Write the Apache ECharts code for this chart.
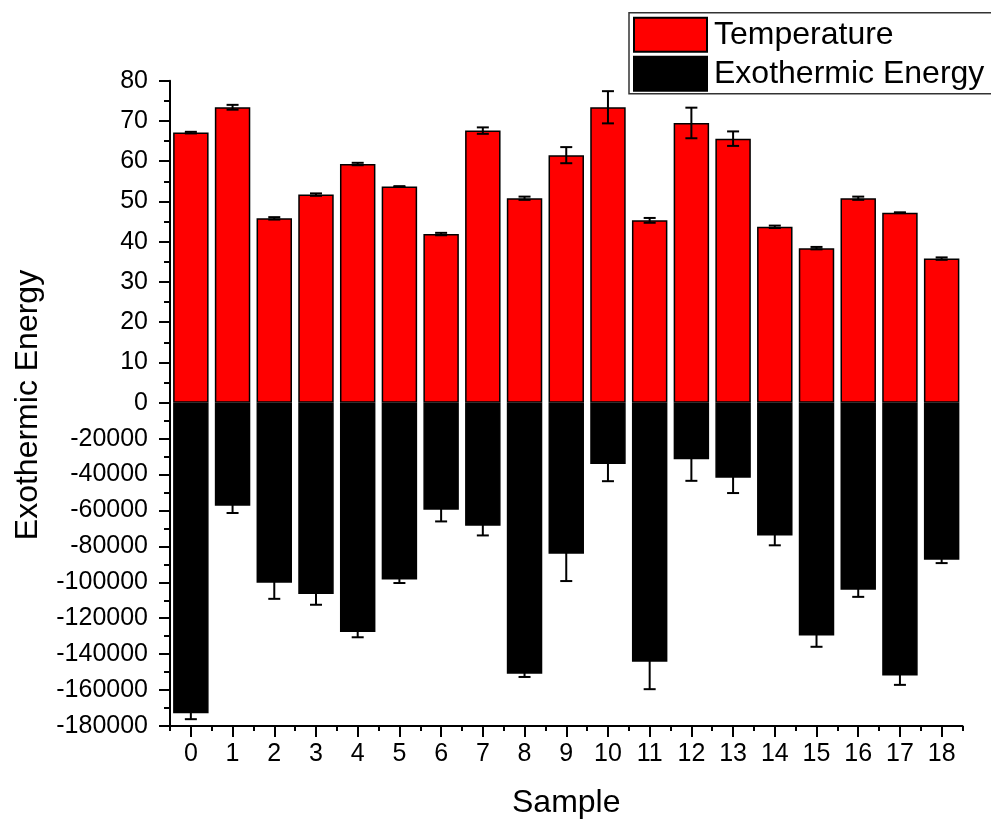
<!DOCTYPE html>
<html>
<head>
<meta charset="utf-8">
<script src="https://cdn.jsdelivr.net/npm/echarts@6/dist/echarts.min.js"></script>
<style>html,body{margin:0;padding:0;background:#fff}#c{width:991px;height:820px}</style>
</head>
<body>
<div id="c"></div>
<script>
// ---- data ----
const samples = ['0','1','2','3','4','5','6','7','8','9','10','11','12','13','14','15','16','17','18'];
const temperature = [67.1, 73.4, 45.8, 51.7, 59.3, 53.7, 41.9, 67.6, 50.8, 61.5, 73.4, 45.3, 69.5, 65.6, 43.7, 38.4, 50.8, 47.2, 35.8];
const temperatureErr = [0.2, 0.6, 0.3, 0.3, 0.3, 0.1, 0.3, 0.8, 0.4, 2.0, 4.0, 0.6, 3.8, 1.8, 0.3, 0.3, 0.4, 0.1, 0.3];
const energy = [-172900, -57400, -100200, -106500, -127600, -98500, -59600, -68500, -150900, -84100, -34100, -144200, -31500, -41800, -73900, -129600, -104200, -151900, -87400];
const energyErr = [3300, 4000, 9000, 6000, 3000, 1900, 6500, 5400, 1800, 15200, 9600, 15300, 12000, 8500, 5500, 6300, 3900, 5200, 1900];

const FONT = "'Liberation Sans', Arial, sans-serif";
const chart = echarts.init(document.getElementById('c'), null, {renderer: 'canvas'});

function errItem(params, api) {
  const x = api.value(0);
  const p1 = api.coord([x, api.value(2)]);
  const p2 = api.coord([x, api.value(1)]);
  const cap = 6;
  const style = {stroke: '#000', lineWidth: 2, fill: null};
  return {type: 'group', children: [
    {type: 'line', shape: {x1: p1[0], y1: p1[1], x2: p2[0], y2: p2[1]}, style: style},
    {type: 'line', shape: {x1: p1[0] - cap, y1: p1[1], x2: p1[0] + cap, y2: p1[1]}, style: style},
    {type: 'line', shape: {x1: p2[0] - cap, y1: p2[1], x2: p2[0] + cap, y2: p2[1]}, style: style}
  ]};
}

const axisLineStyle = {color: '#000', width: 2};
const plain = v => String(v);
function yAxisCommon(extra) {
  return Object.assign({
    type: 'value',
    axisLine: {show: true, lineStyle: axisLineStyle},
    axisTick: {show: true, inside: false, length: 11, lineStyle: axisLineStyle},
    minorTick: {show: true, splitNumber: 2, length: 6, lineStyle: axisLineStyle},
    splitLine: {show: false},
    minorSplitLine: {show: false},
    axisLabel: {fontSize: 25, color: '#000', fontFamily: FONT, margin: 22, formatter: plain}
  }, extra);
}

const option = {
  animation: false,
  backgroundColor: '#fff',
  grid: [
    {left: 170, right: 28.5, top: 80.7, height: 322},
    {left: 170, right: 28.5, top: 402.7, height: 324.3}
  ],
  xAxis: [
    {type: 'category', gridIndex: 0, data: samples, show: false},
    {type: 'category', gridIndex: 1, data: samples, position: 'bottom',
     axisLine: {show: true, onZero: false, lineStyle: axisLineStyle},
     axisTick: {show: true, alignWithLabel: true, length: 11, lineStyle: axisLineStyle},
     axisLabel: {fontSize: 25, color: '#000', fontFamily: FONT, margin: 16, interval: 0},
     name: 'Sample', nameLocation: 'middle', nameGap: 61,
     nameTextStyle: {fontSize: 32, color: '#000', fontFamily: FONT}},
    {type: 'category', gridIndex: 1, data: samples, position: 'bottom',
     axisLine: {show: false, onZero: false},
     axisTick: {show: true, alignWithLabel: false, length: 5, lineStyle: axisLineStyle},
     axisLabel: {show: false}}
  ],
  yAxis: [
    yAxisCommon({gridIndex: 0, min: 0, max: 80, interval: 10}),
    yAxisCommon({gridIndex: 1, min: -180000, max: 0, interval: 20000,
      axisLabel: {fontSize: 25, color: '#000', fontFamily: FONT, margin: 22, showMaxLabel: false, formatter: plain}})
  ],
  legend: {
    data: ['Temperature', 'Exothermic Energy'],
    orient: 'vertical', left: 629, top: 12.7,
    itemWidth: 73, itemHeight: 34, itemGap: 3,
    padding: [4, 60, 2, 4],
    borderColor: '#333', borderWidth: 1.5, borderRadius: 0,
    icon: 'rect',
    selectedMode: false,
    textStyle: {fontSize: 32, color: '#000', fontFamily: FONT, padding: [0, 0, 0, 2]}
  },
  graphic: [{
    type: 'text', x: 28, y: 405, rotation: Math.PI / 2,
    style: {text: 'Exothermic Energy', font: "32px 'Liberation Sans', Arial, sans-serif", fill: '#000',
      align: 'center', verticalAlign: 'middle', textAlign: 'center', textVerticalAlign: 'middle'}
  }],
  series: [
    {name: 'Temperature', type: 'bar', xAxisIndex: 0, yAxisIndex: 0, data: temperature,
     barWidth: '85%', itemStyle: {color: '#ff0000', borderColor: '#000', borderWidth: 1.5}},
    {name: 'Exothermic Energy', type: 'bar', xAxisIndex: 1, yAxisIndex: 1, data: energy,
     barWidth: '85%', itemStyle: {color: '#000', borderColor: '#000', borderWidth: 1.5}},
    {name: 'tErr', type: 'custom', xAxisIndex: 0, yAxisIndex: 0, renderItem: errItem, z: 5,
     encode: {x: 0, y: [1, 2]},
     data: samples.map((s, i) => [i, temperature[i] - temperatureErr[i], temperature[i] + temperatureErr[i]])},
    {name: 'eErr', type: 'custom', xAxisIndex: 1, yAxisIndex: 1, renderItem: errItem, z: 5,
     encode: {x: 0, y: [1, 2]},
     data: samples.map((s, i) => [i, energy[i] - energyErr[i], energy[i] + energyErr[i]])}
  ]
};
chart.setOption(option);
</script>
</body>
</html>
